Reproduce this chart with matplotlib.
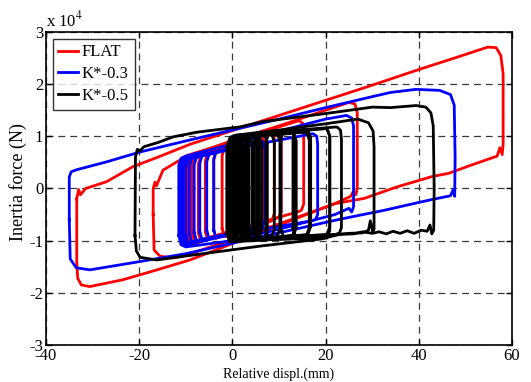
import matplotlib
matplotlib.use("Agg")
import matplotlib.pyplot as plt

plt.rcParams['font.family'] = ['Liberation Serif', 'DejaVu Serif']
plt.rcParams['mathtext.fontset'] = 'stix'
plt.rcParams['axes.unicode_minus'] = False

# relative displacement (mm) and inertia force (x 1e4 N), one list per hysteresis loop

flat_x = [
    [-33.4, -33.0, -32.6, -31.5, -27.0, -21.3, -16.0, -9.0, 0.0, 10.0, 20.0, 30.0, 40.0, 48.0, 54.8, 56.6, 57.6, 58.1,
     58.1, 57.9, 57.4, 56.8, 51.3, 46.4, 42.9, 35.3, 28.3, 22.0, 15.0, 5.0, -5.0, -9.1, -16.2, -23.5, -30.6, -32.4,
     -33.2, -33.4, -33.4],
    [-17.0, -17.0, -16.6, -16.3, -14.9, -10.6, 0.0, 10.0, 20.0, 25.0, 26.3, 26.8, 26.8, 26.5, 26.0, 25.4, 22.0, 10.0,
     0.0, -10.0, -12.7, -15.5, -16.8],
    [-10.9, -10.9, -10.4, -9.5, 0.0, 10.0, 14.3, 15.1, 15.3, 15.3, 14.8, 14.0, 10.0, 0.0, -9.5, -10.4],
    [-10.2, -10.2, -9.7, -9.0, 0.0, 9.6, 10.3, 10.5, 10.5, 10.0, 9.2, 0.0, -9.0, -9.8],
    [-9.6, -9.6, -9.1, 5.0, 5.5, 5.5, 5.0, -9.1],
    [-8.6, -8.6, -8.1, 2.0, 2.5, 2.5, 2.0, -8.1],
    [-7.3, -7.3, -6.8, 0.3, 0.8, 0.8, 0.3, -6.8],
    [-5.8, -5.8, -5.3, 2.7, 3.2, 3.2, 2.7, -5.3],
    [-4.0, -4.0, -3.5, 6.3, 6.8, 6.8, 6.3, -3.5],
    [-2.2, -2.2, -1.7, 8.5, 9.0, 9.0, 8.5, -1.7],
]
flat_f = [
    [-0.20, -0.02, -0.12, 0.00, 0.13, 0.42, 0.60, 0.85, 1.11, 1.40, 1.69, 1.98, 2.28, 2.51, 2.71, 2.70, 2.55, 2.20,
     0.85, 0.65, 0.78, 0.62, 0.45, 0.29, 0.23, 0.03, -0.19, -0.29, -0.53, -0.88, -1.23, -1.37, -1.56, -1.75, -1.88,
     -1.85, -1.72, -1.40, -0.40],
    [-0.50, 0.00, 0.12, 0.05, 0.35, 0.58, 0.92, 1.20, 1.50, 1.65, 1.62, 1.45, 0.00, -0.12, -0.05, -0.15, -0.29, -0.68,
     -0.98, -1.28, -1.33, -1.30, -1.18],
    [-0.85, 0.45, 0.60, 0.64, 0.90, 1.18, 1.30, 1.25, 1.10, -0.30, -0.42, -0.45, -0.55, -0.82, -1.10, -1.05],
    [-0.85, 0.42, 0.56, 0.60, 0.85, 1.10, 1.05, 0.90, -0.45, -0.55, -0.58, -0.82, -1.07, -1.02],
    [-0.90, 0.43, 0.58, 0.98, 0.83, -0.55, -0.70, -1.05],
    [-0.87, 0.45, 0.60, 0.90, 0.75, -0.61, -0.76, -1.02],
    [-0.85, 0.47, 0.62, 0.86, 0.71, -0.65, -0.80, -1.00],
    [-0.83, 0.53, 0.68, 0.95, 0.80, -0.60, -0.75, -0.98],
    [-0.80, 0.57, 0.72, 1.05, 0.90, -0.53, -0.68, -0.95],
    [-0.77, 0.63, 0.78, 1.10, 0.95, -0.47, -0.62, -0.92],
]

k03_x = [
    [-35.0, -35.0, -34.6, -33.4, -27.0, -19.8, -9.1, 0.0, 10.0, 20.0, 30.0, 33.9, 39.4, 44.5, 46.8, 47.6, 47.8,
     47.7, 47.4, 46.8, 42.9, 37.4, 32.5, 26.9, 22.0, 10.0, 0.0, -10.0, -19.8, -30.6, -33.5, -34.8],
    [-11.5, -11.5, -11.0, -10.0, 0.0, 10.0, 20.0, 24.5, 25.6, 26.0, 26.0, 25.6, 25.0, 22.0, 10.0, 0.0, -10.0, -11.0],
    [-11.0, -11.0, -10.5, -9.5, 17.3, 18.1, 18.3, 18.3, 17.8, 17.0, 0.0, -10.0, -10.7],
    [-10.6, -10.6, -10.1, 6.5, 7.0, 7.0, 6.5, -10.1],
    [-10.0, -10.0, -9.5, 3.0, 3.5, 3.5, 3.0, -9.5],
    [-9.2, -9.2, -8.7, 0.7, 1.2, 1.2, 0.7, -8.7],
    [-8.2, -8.2, -7.7, -1.0, -0.5, -0.5, -1.0, -7.7],
    [-7.0, -7.0, -6.5, 1.3, 1.8, 1.8, 1.3, -6.5],
    [-5.5, -5.5, -5.0, 4.0, 4.5, 4.5, 4.0, -5.0],
    [-4.0, -4.0, -3.5, -0.5, 0.0, 0.0, -0.5, -3.5],
]
k03_f = [
    [-0.60, 0.22, 0.32, 0.36, 0.51, 0.70, 0.93, 1.12, 1.33, 1.55, 1.76, 1.84, 1.90, 1.88, 1.80, 1.60, 0.60,
     -0.15, -0.02, -0.14, -0.21, -0.32, -0.42, -0.52, -0.61, -0.85, -1.05, -1.25, -1.40, -1.56, -1.52, -1.35],
    [-0.90, 0.45, 0.58, 0.62, 0.85, 1.10, 1.33, 1.40, 1.35, 1.20, -0.35, -0.45, -0.38, -0.50, -0.78, -1.00, -1.12,
     -1.08],
    [-0.85, 0.45, 0.57, 0.60, 1.05, 1.00, 0.85, -0.50, -0.60, -0.62, -0.88, -1.08, -1.02],
    [-0.90, 0.41, 0.56, 0.90, 0.75, -0.60, -0.75, -1.05],
    [-0.89, 0.41, 0.56, 0.82, 0.67, -0.65, -0.80, -1.04],
    [-0.87, 0.43, 0.58, 0.78, 0.63, -0.70, -0.85, -1.02],
    [-0.85, 0.45, 0.60, 0.75, 0.60, -0.73, -0.88, -1.00],
    [-0.83, 0.48, 0.63, 0.80, 0.65, -0.69, -0.84, -0.98],
    [-0.81, 0.51, 0.66, 0.88, 0.73, -0.63, -0.78, -0.96],
    [-0.80, 0.55, 0.70, 0.78, 0.63, -0.70, -0.85, -0.95],
]

k05_x = [
    [-20.9, -20.8, -20.4, -19.8, -19.0, -16.0, -12.7, -7.5, 1.6, 6.4, 20.3, 30.1, 33.9, 39.4, 41.5, 42.6, 43.1, 43.3,
     43.2, 42.8, 42.4, 41.8, 40.5, 39.0, 37.5, 36.0, 34.5, 33.0, 31.5, 30.0, 28.0, 26.0, 23.0, 18.9, 6.4, -5.5,
     -16.2, -19.8, -20.6],
    [-1.0, -1.0, -0.5, 0.5, 10.0, 20.0, 26.9, 29.2, 30.2, 30.4, 30.4, 30.1, 29.6, 29.2, 28.0, 25.0, 20.0, 10.0, 0.5,
     -0.5],
    [-0.5, -0.5, 0.0, 1.0, 22.4, 23.2, 23.4, 23.4, 23.0, 22.2, 1.0, 0.0],
    [0.0, 0.0, 0.6, 20.3, 20.9, 20.9, 20.3, 0.6],
    [13.0, 13.0, 13.6, 20.3, 20.9, 20.9, 20.3, 13.6],
    [10.4, 10.4, 11.0, 16.2, 16.8, 16.8, 16.2, 11.0],
    [7.2, 7.2, 7.8, 12.9, 13.5, 13.5, 12.9, 7.8],
    [4.5, 4.5, 5.1, 9.6, 10.2, 10.2, 9.6, 5.1],
    [1.9, 1.9, 2.5, 15.9, 16.5, 16.5, 15.9, 2.5],
    [4.7, 4.7, 5.3, 13.1, 13.7, 13.7, 13.1, 5.3],
    [3.2, 3.2, 3.8, 8.4, 9.0, 9.0, 8.4, 3.8],
    [1.8, 1.8, 2.4, 6.9, 7.5, 7.5, 6.9, 2.4],
    [0.3, 0.3, 0.9, 5.7, 6.3, 6.3, 5.7, 0.9],
    [-1.2, -1.2, -0.6, 5.2, 5.8, 5.8, 5.2, -0.6],
    [2.6, 2.6, 3.2, 4.6, 5.2, 5.2, 4.6, 3.2],
    [0.0, 0.0, 0.6, 3.7, 4.3, 4.3, 3.7, 0.6],
    [1.0, 1.0, 1.6, 3.0, 3.6, 3.6, 3.0, 1.6],
    [-0.8, -0.8, -0.2, 2.4, 3.0, 3.0, 2.4, -0.2],
    [0.5, 0.5, 1.0, 1.7, 2.2, 2.2, 1.7, 1.0],
    [-0.3, -0.3, 0.2, 0.9, 1.4, 1.4, 0.9, 0.2],
]
k05_f = [
    [-0.90, 0.60, 0.75, 0.72, 0.80, 0.88, 0.99, 1.08, 1.18, 1.28, 1.44, 1.56, 1.55, 1.59, 1.56, 1.45, 1.20, 0.00,
     -0.80, -0.87, -0.70, -0.82, -0.80, -0.86, -0.81, -0.86, -0.82, -0.87, -0.83, -0.86, -0.83, -0.87, -0.88, -0.97,
     -1.10, -1.24, -1.37, -1.32, -1.20],
    [-0.80, 0.80, 0.98, 1.02, 1.12, 1.24, 1.33, 1.26, 1.10, 0.80, -0.78, -0.83, -0.62, -0.80, -0.85, -0.86, -0.90,
     -0.97, -1.02, -0.95],
    [-0.80, 0.82, 0.98, 1.02, 1.18, 1.12, 0.95, -0.75, -0.85, -0.88, -1.00, -0.95],
    [-0.80, 0.85, 1.00, 1.15, 1.00, -0.80, -0.95, -1.00],
    [-0.77, 0.97, 1.12, 1.15, 1.00, -0.73, -0.88, -0.92],
    [-0.78, 0.95, 1.10, 1.12, 0.97, -0.73, -0.88, -0.93],
    [-0.80, 0.90, 1.05, 1.08, 0.93, -0.75, -0.90, -0.95],
    [-0.82, 0.87, 1.02, 1.06, 0.91, -0.77, -0.92, -0.97],
    [-0.85, 0.85, 1.00, 1.08, 0.93, -0.75, -0.90, -1.00],
    [-0.83, 0.85, 1.00, 1.06, 0.91, -0.75, -0.90, -0.98],
    [-0.83, 0.85, 1.00, 1.05, 0.90, -0.78, -0.93, -0.98],
    [-0.83, 0.85, 1.00, 1.04, 0.89, -0.79, -0.94, -0.98],
    [-0.85, 0.82, 0.97, 1.02, 0.87, -0.80, -0.95, -1.00],
    [-0.87, 0.80, 0.95, 1.00, 0.85, -0.80, -0.95, -1.02],
    [-0.84, 0.84, 0.99, 1.01, 0.86, -0.81, -0.96, -0.99],
    [-0.85, 0.83, 0.98, 1.00, 0.85, -0.81, -0.96, -1.00],
    [-0.85, 0.82, 0.97, 0.99, 0.84, -0.83, -0.98, -1.00],
    [-0.87, 0.81, 0.96, 0.98, 0.83, -0.83, -0.98, -1.02],
    [-0.85, 0.80, 0.95, 0.96, 0.81, -0.84, -0.99, -1.00],
    [-0.86, 0.80, 0.95, 0.96, 0.81, -0.85, -1.00, -1.01],
]

x_ticks = [-40, -20, 0, 20, 40, 60]
y_ticks = [-3, -2, -1, 0, 1, 2, 3]


def plot_loops(ax, xs, fs, color, label):
    for i, (lx, lf) in enumerate(zip(xs, fs)):
        # close each loop back on its first point
        ax.plot(lx + lx[:1], lf + lf[:1], color=color, lw=2.0,
                label=label if i == 0 else None, solid_joinstyle='round')


fig = plt.figure(figsize=(5.31, 3.82), dpi=100)
ax = fig.add_axes([0.0866, 0.0969, 0.8776, 0.8194])

plot_loops(ax, flat_x, flat_f, 'red', 'FLAT')
plot_loops(ax, k03_x, k03_f, 'blue', 'K*-0.3')
plot_loops(ax, k05_x, k05_f, 'black', 'K*-0.5')

ax.set_xlim(-40, 60)
ax.set_ylim(-3, 3)
ax.set_xticks(x_ticks)
ax.set_yticks(y_ticks)
ax.grid(True, color='#3a3a3a', linestyle=(0, (5.5, 4)), lw=0.9)
ax.set_axisbelow(True)
ax.tick_params(direction='in', top=True, right=True, length=4, width=1, labelsize=12, pad=2)
for s in ax.spines.values():
    s.set_linewidth(1.2)

ax.set_xlabel('Relative displ.(mm)', fontsize=10, labelpad=3)
ax.set_ylabel('Inertia force (N)', fontsize=13)
ax.yaxis.set_label_coords(-0.04, 0.52)
ax.text(0.0, 1.005, r'x 10$^{4}$', transform=ax.transAxes, fontsize=12, ha='left', va='bottom')

leg = ax.legend(loc='upper left', fontsize=12, handlelength=1.2, handletextpad=0.2,
                labelspacing=0.35, borderpad=0.35, borderaxespad=0.4, fancybox=False)
leg.get_frame().set_edgecolor('black')
leg.get_frame().set_linewidth(1.0)
for line in leg.get_lines():
    line.set_linewidth(2)

fig.savefig('out.png', dpi=100)
